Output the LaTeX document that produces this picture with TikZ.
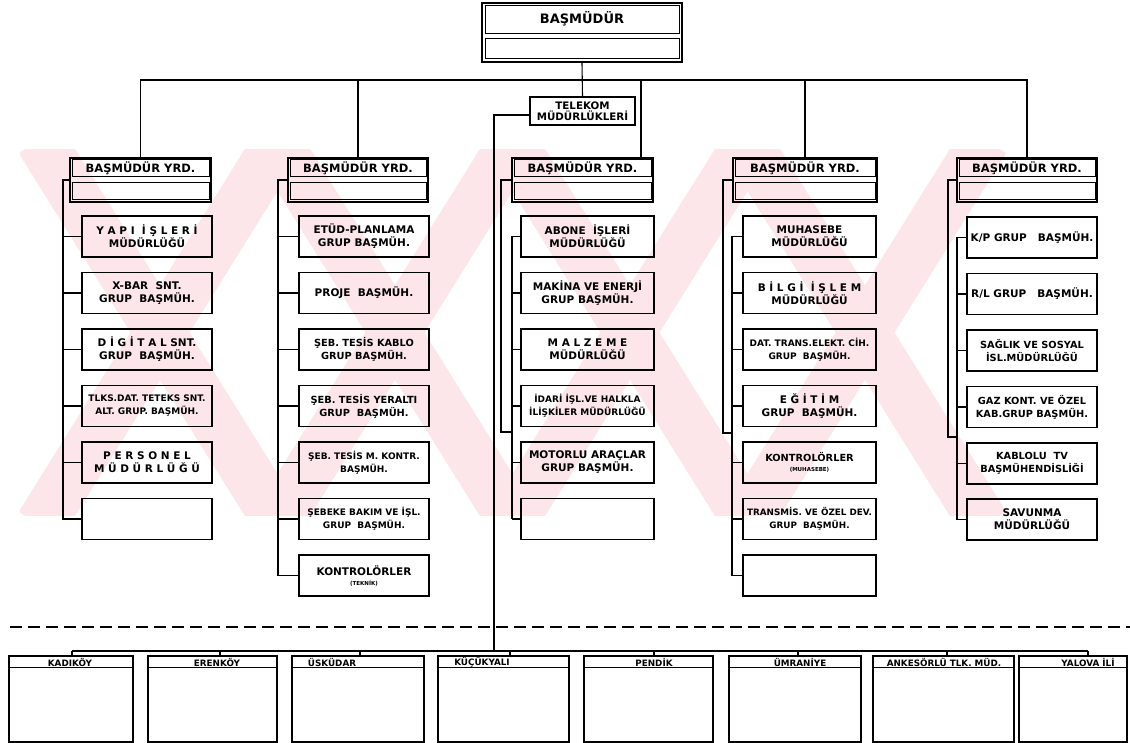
\documentclass[tikz,border=0pt]{standalone}
\usepackage{fontspec}
\setmainfont{DejaVu Sans}
\definecolor{wm}{RGB}{252,230,234}
\begin{document}
\begin{tikzpicture}[x=1pt,y=-1pt,
 conn/.style={line width=1.1pt},
 box/.style={draw,line width=1.1pt,minimum height=41pt,inner sep=1pt,align=center,font=\bfseries\fontsize{10.5}{13}\selectfont},
 wA/.style={minimum width=130pt}, wB/.style={minimum width=133pt},
 sm/.style={font=\bfseries\fontsize{9.8}{13}\selectfont},
 xs/.style={font=\bfseries\fontsize{9}{13}\selectfont},
 yrd/.style={draw,line width=2pt,minimum height=44pt,inner sep=0pt},
 cell/.style={draw,line width=1pt},
 lbl/.style={font=\bfseries\fontsize{11.5}{13}\selectfont,inner sep=0pt},
 dbox/.style={draw,line width=1.1pt,minimum height=86pt,inner sep=0pt},
 dlbl/.style={font=\bfseries\fontsize{8.8}{10}\selectfont,inner sep=0pt},
 tk/.style={draw,line width=1.1pt,minimum width=105pt,minimum height=28pt,inner sep=0pt,align=center,font=\bfseries\fontsize{10.3}{11}\selectfont},
 wmband/.style={line width=50pt,wm}
]
\useasboundingbox (0,0) rectangle (1130,743);
\fill[white] (0,0) rectangle (1130,743);

% ---- watermark
\begin{scope}
\clip (20,150) rectangle (1010,515);
\foreach \cx in {160,395,630,865}{
 \draw[wmband] (\cx-120,140) -- (\cx+120,525);
 \draw[wmband] (\cx+120,140) -- (\cx-120,525);
}
\end{scope}

% ---- top
\node[draw,line width=2pt,minimum width=200pt,minimum height=59pt,inner sep=0pt,fill=white] (bm) at (582,32.5) {};
\draw[cell] ([shift={(4pt,-4pt)}]bm.north west) rectangle ([shift={(-4pt,-32pt)}]bm.north east);
\draw[cell] ([shift={(4pt,4pt)}]bm.south west) rectangle ([shift={(-4pt,24pt)}]bm.south east);
\node[font=\bfseries\fontsize{13}{14}\selectfont,inner sep=0pt] (bmt) at ([yshift=-17pt]bm.north) {BAŞMÜDÜR};
\node[tk] (tk) at (582.5,111) {TELEKOM\\MÜDÜRLÜKLERİ};

% ---- deputies
\foreach \n/\x/\w in {y1/140.5/141,y2/358/140,y3/582.5/141,y4/805/144,y5/1027/140}{
 \node[yrd,minimum width=\w pt] (\n) at (\x,180) {};
 \draw[cell] ([shift={(3pt,-3pt)}]\n.north west) rectangle ([shift={(-3pt,-20pt)}]\n.north east);
 \draw[cell] ([shift={(3pt,3pt)}]\n.south west) rectangle ([shift={(-3pt,20pt)}]\n.south east);
 \node[lbl] (\n t) at ([yshift=-11.5pt]\n.north) {BAŞMÜDÜR YRD.};
}

% ---- column 1
\node[box,wA] (b11) at (147,236.5) {Y A P I\ \ İ Ş L E R İ\\MÜDÜRLÜĞÜ};
\node[box,wA] (b12) at (147,293) {X-BAR\ \ SNT.\\GRUP\ \ BAŞMÜH.};
\node[box,wA] (b13) at (147,349.5) {D İ G İ T A L SNT.\\GRUP\ \ BAŞMÜH.};
\node[box,wA,xs] (b14) at (147,406) {TLKS.DAT. TETEKS SNT.\\ALT. GRUP. BAŞMÜH.};
\node[box,wA] (b15) at (147,462.5) {P E R S O N E L\\M Ü D Ü R L Ü Ğ Ü};
\node[box,wA] (b16) at (147,519) {};

% ---- column 2
\node[box,wA] (b21) at (364,236.5) {ETÜD-PLANLAMA\\GRUP BAŞMÜH.};
\node[box,wA] (b22) at (364,293) {PROJE\ \ BAŞMÜH.};
\node[box,wA,sm] (b23) at (364,349.5) {ŞEB. TESİS KABLO\\GRUP BAŞMÜH.};
\node[box,wA,sm] (b24) at (364,406) {ŞEB. TESİS YERALTI\\GRUP\ \ BAŞMÜH.};
\node[box,wA,xs] (b25) at (364,462.5) {ŞEB. TESİS M. KONTR.\\BAŞMÜH.};
\node[box,wA,xs] (b26) at (364,519) {ŞEBEKE BAKIM VE İŞL.\\GRUP\ \ BAŞMÜH.};
\node[box,wA] (b27) at (364,575.5) {KONTROLÖRLER\\[-3pt]{\fontsize{5.5}{6}\selectfont (TEKNİK)}};

% ---- column 3
\node[box,wB] (b31) at (587.5,236.5) {ABONE\ \ İŞLERİ\\MÜDÜRLÜĞÜ};
\node[box,wB] (b32) at (587.5,293) {MAKİNA VE ENERJİ\\GRUP BAŞMÜH.};
\node[box,wB] (b33) at (587.5,349.5) {M A L Z E M E\\MÜDÜRLÜĞÜ};
\node[box,wB,xs] (b34) at (587.5,406) {İDARİ İŞL.VE HALKLA\\İLİŞKİLER MÜDÜRLÜĞÜ};
\node[box,wB] (b35) at (587.5,462.5) {MOTORLU ARAÇLAR\\GRUP BAŞMÜH.};
\node[box,wB] (b36) at (587.5,519) {};

% ---- column 4
\node[box,wB] (b41) at (809.5,236.5) {MUHASEBE\\MÜDÜRLÜĞÜ};
\node[box,wB] (b42) at (809.5,293) {B İ L G İ\ \ İ Ş L E M\\MÜDÜRLÜĞÜ};
\node[box,wB,xs] (b43) at (809.5,349.5) {DAT. TRANS.ELEKT. CİH.\\GRUP\ \ BAŞMÜH.};
\node[box,wB] (b44) at (809.5,406) {E Ğ İ T İ M\\GRUP\ \ BAŞMÜH.};
\node[box,wB,sm] (b45) at (809.5,462.5) {KONTROLÖRLER\\[-3pt]{\fontsize{5.5}{6}\selectfont (MUHASEBE)}};
\node[box,wB,font=\bfseries\fontsize{8.8}{13}\selectfont] (b46) at (809.5,519) {TRANSMİS. VE ÖZEL DEV.\\GRUP\ \ BAŞMÜH.};
\node[box,wB] (b47) at (809.5,575.5) {};

% ---- column 5
\node[box,wA] (b51) at (1032,237.5) {K/P GRUP\ \ \ BAŞMÜH.};
\node[box,wA] (b52) at (1032,294) {R/L GRUP\ \ \ BAŞMÜH.};
\node[box,wA,sm] (b53) at (1032,350.5) {SAĞLIK VE SOSYAL\\İSL.MÜDÜRLÜĞÜ};
\node[box,wA,sm] (b54) at (1032,407) {GAZ KONT. VE ÖZEL\\KAB.GRUP BAŞMÜH.};
\node[box,wA,sm] (b55) at (1032,463.5) {KABLOLU\ \ TV\\BAŞMÜHENDİSLİĞİ};
\node[box,wA] (b56) at (1032,519.5) {SAVUNMA\\MÜDÜRLÜĞÜ};

% ---- top connectors
\coordinate (tb) at (583,80);
\coordinate (t3) at (641,80);
\draw[conn] (bm.south) -- (tk.north);
\draw[conn] (y1.north) -- (y1.north |- tb) -- (y5.north |- tb) -- (y5.north);
\draw[conn] (y2.north) -- (y2.north |- tb);
\draw[conn] (t3) -- (t3 |- y3.north);
\draw[conn] (y4.north) -- (y4.north |- tb);

% ---- column trunks
\coordinate (c1) at (63,180);
\draw[conn] (y1.west) -- (c1) |- (b16.west);
\foreach \i in {1,...,5} \draw[conn] (b1\i.west) -- (b1\i.west -| c1);

\coordinate (c2) at (278,180);
\draw[conn] (y2.west) -- (c2) |- (b27.west);
\foreach \i in {1,...,6} \draw[conn] (b2\i.west) -- (b2\i.west -| c2);

\coordinate (c3) at (501,180);
\coordinate (c3j) at (512,432);
\draw[conn] (y3.west) -- (c3) |- (c3j);
\draw[conn] (b31.west -| c3j) -- (b36.west -| c3j);
\foreach \i in {1,...,6} \draw[conn] (b3\i.west) -- (b3\i.west -| c3j);

\coordinate (c4) at (723,180);
\coordinate (c4j) at (732,433);
\draw[conn] (y4.west) -- (c4) |- (c4j);
\draw[conn] (b41.west -| c4j) -- (b47.west -| c4j);
\foreach \i in {1,...,7} \draw[conn] (b4\i.west) -- (b4\i.west -| c4j);

\coordinate (c5) at (948,180);
\coordinate (c5j) at (957,437);
\draw[conn] (y5.west) -- (c5) |- (c5j);
\draw[conn] (b51.west -| c5j) -- (b56.west -| c5j);
\foreach \i in {1,...,6} \draw[conn] (b5\i.west) -- (b5\i.west -| c5j);

% ---- dashed separator
\draw[line width=1.6pt,dash pattern=on 12pt off 6pt] (10,627) -- (1130,627);

% ---- district boxes
\foreach \n/\x/\w/\lx/\t in {d1/71/124/70/KADIKÖY,d2/212.5/129/217/ERENKÖY,d3/358/132/332/ÜSKÜDAR,d4/503.5/131/482/KÜÇÜKYALI,d5/648.5/129/654/PENDİK,d6/795/132/800/ÜMRANİYE,d7/943.5/141/944/ANKESÖRLÜ TLK. MÜD.,d8/1073/108/1088/YALOVA İLİ}{
 \node[dbox,minimum width=\w pt] (\n) at (\x,699) {};
 \draw[conn] ([yshift=-12pt]\n.north west) -- ([yshift=-12pt]\n.north east);
 \node[dlbl] (\n t) at (\lx,662.5) {\t};
}

\coordinate (tx) at (494,115);
\coordinate (bus) at (494,651);
\draw[conn] (tk.west |- tx) -- (tx) -- (bus);
\foreach \i/\x in {1/72,2/220,3/360,4/510,5/654,6/798,7/947,8/1088}{
 \coordinate (p\i) at (\x,651);
 \draw[conn] (p\i) -- (p\i |- d\i.north);
}
\draw[conn] (p1) -- (p8);
\end{tikzpicture}
\end{document}
